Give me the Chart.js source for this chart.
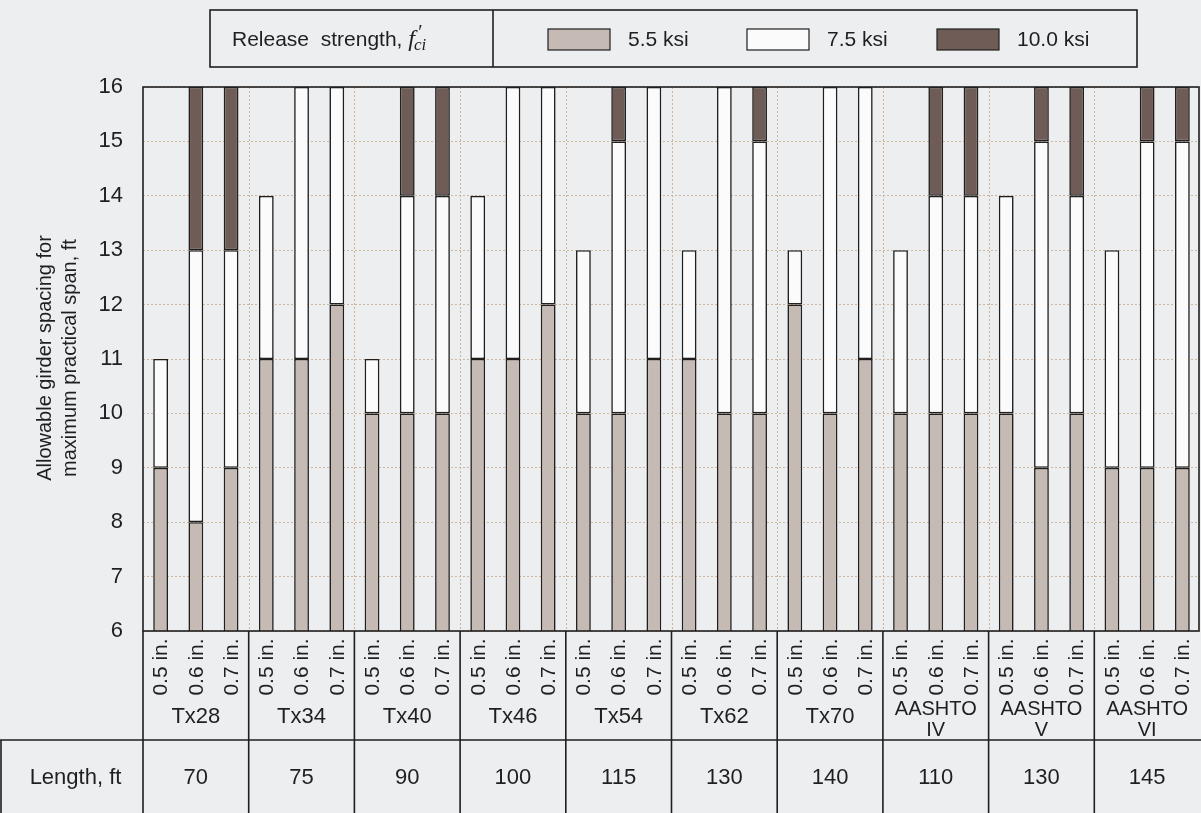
<!DOCTYPE html>
<html>
<head>
<meta charset="utf-8">
<script src="https://cdn.jsdelivr.net/npm/chart.js@4.4.1/dist/chart.umd.min.js"></script>
<style>
  html, body { margin: 0; padding: 0; background: #edeef0; }
  #wrap { width: 1201px; height: 813px; position: relative; }
</style>
</head>
<body>
<div id="wrap"><canvas id="chart" width="1201" height="813"></canvas></div>
<script>
// girder sections, strand sizes and span lengths
const girders = ['Tx28', 'Tx34', 'Tx40', 'Tx46', 'Tx54', 'Tx62', 'Tx70', 'AASHTO\nIV', 'AASHTO\nV', 'AASHTO\nVI'];
const strands = ['0.5 in.', '0.6 in.', '0.7 in.'];
const lengths = [70, 75, 90, 100, 115, 130, 140, 110, 130, 145];

// top of each segment (allowable spacing, ft) per girder x strand
const top55 = [9, 8, 9, 11, 11, 12, 10, 10, 10, 11, 11, 12, 10, 10, 11, 11, 10, 10, 12, 10, 11, 10, 10, 10, 10, 9, 10, 9, 9, 9];
const top75 = [11, 13, 13, 14, 16, 16, 11, 14, 14, 14, 16, 16, 13, 15, 16, 13, 16, 15, 13, 16, 16, 13, 14, 14, 14, 15, 14, 13, 15, 15];
const top100 = [null, 16, 16, null, null, null, null, 16, 16, null, null, null, null, 16, null, null, null, 16, null, null, null, null, 16, 16, null, 16, 16, null, 16, 16];

const yTicks = [6, 7, 8, 9, 10, 11, 12, 13, 14, 15, 16];

const labels = [];
girders.forEach(g => strands.forEach(s => labels.push(s)));

const seg75 = top75.map((v, i) => v - top55[i]);
const seg100 = top100.map((v, i) => v === null ? null : v - top75[i]);

const colors = { c55: '#c6bbb4', c75: '#fbfbfb', c100: '#6f5c57' };
const ink = '#1f1f1f';
const font = '"Liberation Sans", Arial, sans-serif';

const drawExtras = {
    id: 'drawExtras',
    beforeDraw(chart) {
        const ctx = chart.ctx;
        ctx.save();
        ctx.fillStyle = '#edeef0';
        ctx.fillRect(0, 0, chart.width, chart.height);
        ctx.restore();
    },
    beforeDatasetsDraw(chart) {
        const ctx = chart.ctx;
        const area = chart.chartArea;
        const x = chart.scales.x;
        ctx.save();
        ctx.strokeStyle = '#cdb29a';
        ctx.lineWidth = 1;
        ctx.setLineDash([2, 2]);
        for (let g = 1; g < girders.length; g++) {
            const bx = Math.round((x.getPixelForValue(g * 3 - 1) + x.getPixelForValue(g * 3)) / 2) + 0.5;
            ctx.beginPath();
            ctx.moveTo(bx, area.top);
            ctx.lineTo(bx, area.bottom);
            ctx.stroke();
        }
        ctx.restore();
    },
    afterDraw(chart) {
        const ctx = chart.ctx;
        const area = chart.chartArea;
        const x = chart.scales.x;
        ctx.save();
        ctx.strokeStyle = ink;
        ctx.fillStyle = ink;
        ctx.lineWidth = 1.6;

        // plot frame
        ctx.strokeRect(area.left, area.top, area.right - area.left - 1, area.bottom - area.top);

        // bottom table lines
        const rowY = 740;
        const bottom = 813;
        ctx.beginPath();
        ctx.moveTo(area.left, area.bottom);
        ctx.lineTo(area.left, bottom);
        ctx.moveTo(1, rowY);
        ctx.lineTo(1, bottom);
        ctx.moveTo(0, rowY);
        ctx.lineTo(chart.width, rowY);
        for (let g = 1; g < girders.length; g++) {
            const bx = (x.getPixelForValue(g * 3 - 1) + x.getPixelForValue(g * 3)) / 2;
            ctx.moveTo(bx, area.bottom);
            ctx.lineTo(bx, bottom);
        }
        ctx.stroke();

        // strand labels, rotated
        ctx.font = '21px ' + font;
        ctx.textAlign = 'center';
        ctx.textBaseline = 'middle';
        labels.forEach((s, i) => {
            ctx.save();
            ctx.translate(x.getPixelForValue(i) + 1, 667);
            ctx.rotate(-Math.PI / 2);
            ctx.fillText(s, 0, 0);
            ctx.restore();
        });

        // girder names and lengths
        girders.forEach((g, k) => {
            const cx = (x.getPixelForValue(k * 3) + x.getPixelForValue(k * 3 + 2)) / 2;
            const lines = g.split('\n');
            if (lines.length === 1) {
                ctx.font = '22px ' + font;
                ctx.fillText(lines[0], cx, 717);
            } else {
                ctx.font = '20px ' + font;
                ctx.fillText(lines[0], cx, 709);
                ctx.fillText(lines[1], cx, 730);
            }
            ctx.font = '22px ' + font;
            ctx.fillText(String(lengths[k]), cx, 778);
        });
        ctx.fillText('Length, ft', area.left / 2 + 4, 778);

        // y axis title
        ctx.save();
        ctx.font = '20px ' + font;
        ctx.translate(45, 358);
        ctx.rotate(-Math.PI / 2);
        ctx.fillText('Allowable girder spacing for', 0, 0);
        ctx.fillText('maximum practical span, ft', 0, 25);
        ctx.restore();

        // legend box
        ctx.strokeRect(210, 10, 927, 57);
        ctx.beginPath();
        ctx.moveTo(493, 10);
        ctx.lineTo(493, 67);
        ctx.stroke();
        ctx.textAlign = 'left';
        ctx.font = '21px ' + font;
        const lead = 'Release  strength, ';
        ctx.fillText(lead, 232, 40);
        let tx = 232 + ctx.measureText(lead).width;
        ctx.font = 'italic 24px "Liberation Serif", "Times New Roman", serif';
        ctx.fillText('f', tx, 40);
        tx += ctx.measureText('f').width + 1;
        ctx.font = 'italic 20px "Liberation Serif", serif';
        ctx.fillText('\u2032', tx + 1, 34);
        ctx.font = 'italic 17px "Liberation Serif", "Times New Roman", serif';
        ctx.fillText('ci', tx - 2, 46);

        const items = [
            { x: 548, color: colors.c55, text: '5.5 ksi' },
            { x: 747, color: colors.c75, text: '7.5 ksi' },
            { x: 937, color: colors.c100, text: '10.0 ksi' }
        ];
        ctx.lineWidth = 1.2;
        items.forEach(it => {
            ctx.fillStyle = it.color;
            ctx.fillRect(it.x, 29, 62, 21);
            ctx.strokeRect(it.x, 29, 62, 21);
            ctx.fillStyle = ink;
            ctx.font = '21px ' + font;
            ctx.fillText(it.text, it.x + 80, 40);
        });
        ctx.restore();
    }
};

const barStyle = {
    borderColor: ink,
    borderWidth: 1.6,
    borderSkipped: false,
    barPercentage: 0.42,
    categoryPercentage: 1.0
};

new Chart(document.getElementById('chart'), {
    type: 'bar',
    data: {
        labels: labels,
        datasets: [
            { label: '5.5 ksi', data: top55, backgroundColor: colors.c55, ...barStyle },
            { label: '7.5 ksi', data: seg75, backgroundColor: colors.c75, ...barStyle },
            { label: '10.0 ksi', data: seg100, backgroundColor: colors.c100, ...barStyle }
        ]
    },
    options: {
        responsive: false,
        animation: false,
        layout: { padding: { left: 0, right: 1, top: 87, bottom: 182 } },
        plugins: {
            legend: { display: false },
            tooltip: { enabled: false }
        },
        scales: {
            x: {
                stacked: true,
                display: false
            },
            y: {
                stacked: true,
                min: yTicks[0],
                max: yTicks[yTicks.length - 1],
                afterFit: (scale) => { scale.width = 143; },
                afterBuildTicks: (scale) => { scale.ticks = yTicks.map(v => ({ value: v })); },
                ticks: {
                    color: ink,
                    padding: 20,
                    font: { family: font, size: 22 }
                },
                grid: {
                    color: '#d2b79f',
                    lineWidth: 1,
                    drawTicks: false
                },
                border: { display: false, dash: [2, 2] }
            }
        }
    },
    plugins: [drawExtras]
});
</script>
</body>
</html>
